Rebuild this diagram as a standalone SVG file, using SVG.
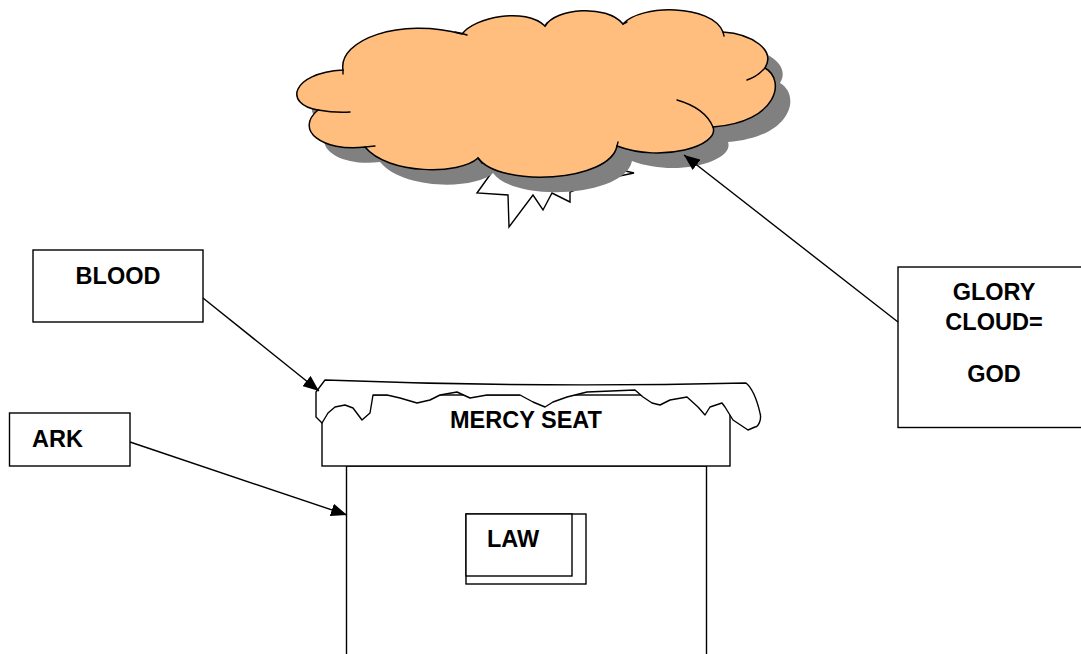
<svg xmlns="http://www.w3.org/2000/svg" width="1081" height="654" viewBox="0 0 1081 654">
<style>
.box{fill:#fff;stroke:#000;stroke-width:1.4}
.lbl{font-family:"Liberation Sans",Arial,sans-serif;font-weight:bold;font-size:23.5px;fill:#000}
.ln{fill:none;stroke:#000;stroke-width:1.4}
.hint{fill:none;stroke:#000;stroke-width:1.4;stroke-linecap:round}
</style>
<defs>
<marker id="arr" markerUnits="userSpaceOnUse" markerWidth="17" markerHeight="13" refX="16" refY="6.5" orient="auto">
<path d="M0,0 L16,6.5 L0,13 z" fill="#000"/>
</marker>
<path id="cloudShape" d="M343,70 C338,40 400,17 462,34 C475,17 525,7 545,26 C556,8 606,4 623,24 C640,4 712,4 723,32 C752,34 776,50 765,68 C786,80 778,122 713,127 C720,146 662,163 617,146 C610,182 500,188 478,158 C460,175 388,175 365,147 C322,152 294,130 318,110 C284,105 290,73 343,70 Z"/>
</defs>
<rect width="1081" height="654" fill="#fff"/>
<g id="glory-cloud">
<path d="M492,172 L477,193 L508,195 L509,227 L533,195 L543,210 L552,193 L570,202 L570,192 L600,180 L634,173 L600,165 Z" fill="#fff" stroke="#000" stroke-width="1.4" stroke-linejoin="miter"/>
<use href="#cloudShape" transform="translate(15,15)" fill="#808080"/>
<use href="#cloudShape" fill="#FFBE7D" stroke="#000" stroke-width="1.5"/>
<path class="hint" d="M343,70 L343,74 M455,32 Q461,33 467,35 M545,26 L547,23 M623,24 L627,22 M723,32 L724,36 M765,68 Q757,77 747,80 M677,100 Q705,108 713,127 M617,146 L618,142 M478,158 Q480,160 482,163 M365,147 L375,146 M318,110 Q335,113 350,112"/>
</g>
<g id="ark">
<rect class="box" x="346.5" y="466" width="360" height="200"/>
</g>
<g id="mercy-seat">
<rect class="box" x="322" y="395" width="408" height="71"/>
<path d="M325,380 Q535,388 746,383 C752,388 757,400 760,413 C762,420 758,427 755,427 L748,430 L733,420 L725,407 L722,403 L710,407 L705,415 L698,407 L687,397 L670,400 L660,405 L652,403 L643,397 L635,390 L587,392 L567,397 L553,402 L545,407 L533,402 L520,395 L487,395 L470,398 L457,392 L440,395 L430,400 L417,403 L400,398 L387,395 L373,395 L370,413 L362,420 L353,408 L345,405 L335,407 L328,413 L322,423 L316,417 L316,392 Z" fill="#fff" stroke="#000" stroke-width="1.4" stroke-linejoin="round"/>
<text class="lbl" x="526" y="428" text-anchor="middle">MERCY SEAT</text>
</g>
<g id="law">
<rect class="box" x="466" y="514" width="120" height="70"/>
<rect class="box" x="466" y="514" width="106" height="62"/>
<text class="lbl" x="487" y="547">LAW</text>
</g>
<g id="blood">
<rect class="box" x="33" y="250" width="170" height="72"/>
<text class="lbl" x="118" y="284" text-anchor="middle">BLOOD</text>
</g>
<g id="ark-label">
<rect class="box" x="9.5" y="413" width="120.5" height="53"/>
<text class="lbl" x="32" y="447">ARK</text>
</g>
<g id="glory-label">
<rect class="box" x="898" y="267" width="200" height="160.5"/>
<text class="lbl" x="994" y="300" text-anchor="middle">GLORY</text>
<text class="lbl" x="994" y="330" text-anchor="middle">CLOUD=</text>
<text class="lbl" x="994" y="382" text-anchor="middle">GOD</text>
</g>
<g id="connectors">
<line class="ln" x1="203" y1="298" x2="319" y2="391" marker-end="url(#arr)"/>
<line class="ln" x1="130" y1="442" x2="347" y2="515" marker-end="url(#arr)"/>
<line class="ln" x1="898" y1="322" x2="684" y2="155" marker-end="url(#arr)"/>
</g>
</svg>
